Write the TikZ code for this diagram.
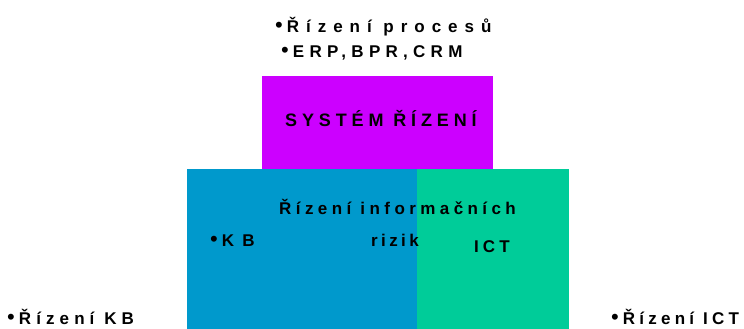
\documentclass[tikz,border=0pt]{standalone}
\usepackage{fontspec}
\setmainfont{Liberation Sans}
\newfontfamily\lbl{Liberation Sans}[BoldFont={Liberation Sans Bold}]
\definecolor{ridici}{HTML}{CC00FF}
\definecolor{kbblue}{HTML}{0099CC}
\definecolor{ictgreen}{HTML}{00CC99}
\tikzset{
  caption/.style={inner sep=0pt, anchor=base west, text=black},
}
% spaced bold label: #1 = letter spacing (1/100 em), #2 = size in pt, #3 = text
\newcommand{\spaced}[3]{{\lbl\bfseries\fontsize{#2}{#2}\selectfont\addfontfeature{LetterSpace=#1}#3}}
% large bullet placed in front of a label
\newcommand{\dotmark}{{\lbl\fontsize{22}{22}\selectfont •}\hspace{4pt}}
\begin{document}
\begin{tikzpicture}[x=1pt,y=-1pt]
  \useasboundingbox (0,0) rectangle (744,329);
  % coloured panels
  \fill[ridici] (262,76) rectangle (493,169);
  \fill[kbblue] (187,169) rectangle (417,329);
  \fill[ictgreen] (417,169) rectangle (569,329);
  % labels
  \node[caption] (proc) at (275,33) {\dotmark\spaced{41}{17}{Řízení procesů}};
  \node[caption] (erp) at (281,58) {\dotmark\spaced{31}{17}{ERP,BPR,CRM}};
  \node[caption] (system) at (285,126) {\spaced{27}{18}{SYSTÉM ŘÍZENÍ}};
  \node[caption] (rinf) at (279,214) {\spaced{26}{17}{Řízení informačních}};
  \node[caption] (kb) at (210,246.5) {\dotmark\spaced{48}{17}{KB}};
  \node[caption] (rizik) at (371,246.5) {\spaced{20}{17}{rizik}};
  \node[caption] (ict) at (474,252.5) {\spaced{24}{17}{ICT}};
  \node[caption] (rkb) at (7,324.5) {\dotmark\spaced{30}{17}{Řízení KB}};
  \node[caption] (rict) at (611,324.5) {\dotmark\spaced{25}{17}{Řízení ICT}};
\end{tikzpicture}
\end{document}
